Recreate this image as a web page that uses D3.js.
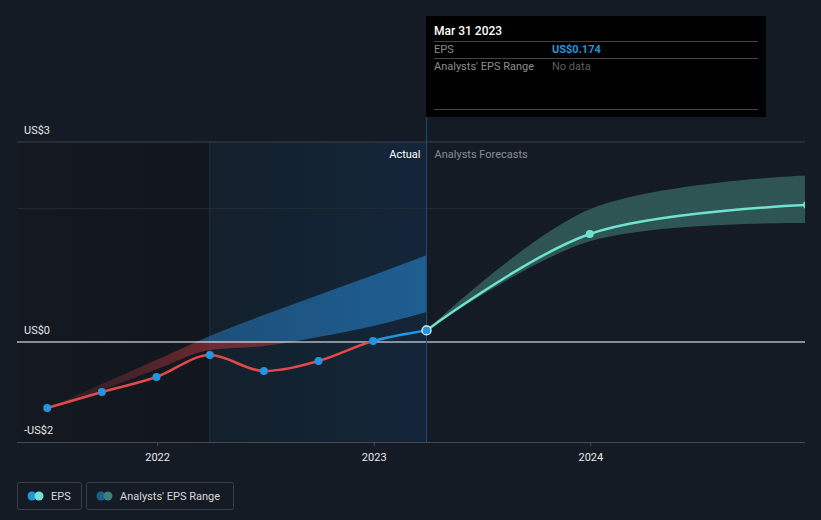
<!DOCTYPE html>
<html>
<head>
<meta charset="utf-8">
<script src="https://cdn.jsdelivr.net/npm/d3@7"></script>
<style>
  body { margin: 0; background: #151b24; }
  svg { display: block; font-family: Roboto, 'Open Sans', sans-serif; }
</style>
</head>
<body>
<svg id="chart" width="821" height="520"></svg>
<script>
const w = 821
const h = 520
const margin = { top: 142, bottom: 78, left: 17, right: 16 }

const bg = "#151b24"
const epsBlue = "#2394df"
const epsRed = "#e24a4a"
const forecastTeal = "#6fe3cf"

// actual EPS, quarterly
const actualDates = ["2021-06-30", "2021-09-30", "2021-12-31", "2022-03-31", "2022-06-30", "2022-09-30", "2022-12-31", "2023-03-31"]
const actualEps = [-0.99, -0.75, -0.525, -0.195, -0.435, -0.285, 0.015, 0.174]
const pastBandLow = [-0.99, -0.72, -0.41, -0.12, -0.06, 0.075, 0.24, 0.45]
const pastBandHigh = [-0.99, -0.63, -0.27, 0.09, 0.405, 0.705, 1.0, 1.3]

// analysts forecasts
const forecastDates = ["2023-03-31", "2023-12-31", "2024-12-31"]
const forecastEps = [0.174, 1.62, 2.055]
const forecastLow = [0.174, 1.51, 1.785]
const forecastHigh = [0.174, 1.99, 2.5]

const yTicks = [-1.5, 0, 3]
const yTickLabels = ["-US$2", "US$0", "US$3"]
const yGrid = [2]
const xTicks = ["2022-01-01", "2023-01-01", "2024-01-01"]

const parse = d3.utcParse("%Y-%m-%d")

const plotRight = w - margin.right

const x = d3.scaleUtc()
  .domain([parse("2021-05-10"), parse("2024-12-31")])
  .range([margin.left, plotRight + 2])

const y = d3.scaleLinear()
  .domain([-1.5, 3])
  .range([h - margin.bottom, margin.top])

const actual = actualDates.map((d, i) => ({ date: parse(d), value: actualEps[i], lo: pastBandLow[i], hi: pastBandHigh[i] }))
const forecast = forecastDates.map((d, i) => ({ date: parse(d), value: forecastEps[i], lo: forecastLow[i], hi: forecastHigh[i] }))

const svg = d3.select('#chart')
const defs = svg.append('defs')

const lastYearStart = parse("2022-03-31")
const now = parse("2023-03-31")

defs.append('clipPath').attr('id', 'plot')
  .append('rect').attr('x', margin.left).attr('y', 0)
  .attr('width', plotRight - margin.left).attr('height', h)

// backgrounds
const gPast = defs.append('linearGradient').attr('id', 'pastBg')
gPast.append('stop').attr('offset', '0%').attr('stop-color', '#141820')
gPast.append('stop').attr('offset', '100%').attr('stop-color', '#12171e')
const gYear = defs.append('linearGradient').attr('id', 'yearBg')
gYear.append('stop').attr('offset', '0%').attr('stop-color', '#13202c')
gYear.append('stop').attr('offset', '100%').attr('stop-color', '#132639')

svg.append('rect')
  .attr('x', margin.left).attr('y', margin.top)
  .attr('width', x(lastYearStart) - margin.left)
  .attr('height', y(-1.5) - margin.top)
  .attr('fill', 'url(#pastBg)')

svg.append('rect')
  .attr('x', x(lastYearStart)).attr('y', margin.top)
  .attr('width', x(now) - x(lastYearStart))
  .attr('height', y(-1.5) - margin.top)
  .attr('fill', 'url(#yearBg)')

svg.append('line')
  .attr('x1', x(lastYearStart)).attr('x2', x(lastYearStart))
  .attr('y1', margin.top).attr('y2', y(-1.5))
  .attr('stroke', '#1d3550')

// grid
svg.append('line')
  .attr('x1', margin.left).attr('x2', plotRight)
  .attr('y1', y(3)).attr('y2', y(3))
  .attr('stroke', '#3b4049')
svg.selectAll('line.grid')
  .data(yGrid).enter()
  .append('line')
    .attr('x1', margin.left).attr('x2', plotRight)
    .attr('y1', d => y(d)).attr('y2', d => y(d))
    .attr('stroke', '#252b34')

// past band: red below zero, blue above
defs.append('clipPath').attr('id', 'above')
  .append('rect').attr('x', 0).attr('y', 0).attr('width', w).attr('height', y(0))
defs.append('clipPath').attr('id', 'below')
  .append('rect').attr('x', 0).attr('y', y(0)).attr('width', w).attr('height', h)

const gRed = defs.append('linearGradient').attr('id', 'redBand')
  .attr('gradientUnits', 'userSpaceOnUse')
  .attr('x1', x(actual[0].date)).attr('x2', x(lastYearStart))
gRed.append('stop').attr('offset', '0%').attr('stop-color', '#c23a40').attr('stop-opacity', 0.1)
gRed.append('stop').attr('offset', '100%').attr('stop-color', '#c23a40').attr('stop-opacity', 0.5)

const gBlue = defs.append('linearGradient').attr('id', 'blueBand')
  .attr('gradientUnits', 'userSpaceOnUse')
  .attr('x1', x(lastYearStart)).attr('x2', x(now))
gBlue.append('stop').attr('offset', '0%').attr('stop-color', '#2476b8').attr('stop-opacity', 0.55)
gBlue.append('stop').attr('offset', '100%').attr('stop-color', '#2476b8').attr('stop-opacity', 0.7)

const pastArea = d3.area()
  .x(d => x(d.date))
  .y0(d => y(d.lo))
  .y1(d => y(d.hi))
  .curve(d3.curveMonotoneX)

svg.append('path')
  .attr('d', pastArea(actual))
  .attr('fill', 'url(#blueBand)')
  .attr('clip-path', 'url(#above)')
svg.append('path')
  .attr('d', pastArea(actual))
  .attr('fill', 'url(#redBand)')
  .attr('clip-path', 'url(#below)')

// forecast band
const forecastArea = d3.area()
  .x(d => x(d.date))
  .y0(d => y(d.lo))
  .y1(d => y(d.hi))
  .curve(d3.curveCatmullRom.alpha(0.5))

const plotG = svg.append('g').attr('clip-path', 'url(#plot)')

plotG.append('path')
  .attr('d', forecastArea(forecast))
  .attr('fill', '#2f5856')
  .attr('fill-opacity', 0.95)

// zero line
svg.append('line')
  .attr('x1', margin.left).attr('x2', plotRight)
  .attr('y1', y(0)).attr('y2', y(0))
  .attr('stroke', '#ffffff').attr('stroke-width', 1.2)

// bottom axis
svg.append('g')
  .attr('transform', `translate(0,${y(-1.5)})`)
  .call(d3.axisBottom(x)
    .tickValues(xTicks.map(parse))
    .tickSize(4)
    .tickFormat(d3.utcFormat('%Y')))
  .call(g => g.select('.domain')
    .attr('d', `M${margin.left},0.5H${plotRight}`)
    .attr('stroke', '#454a52'))
  .call(g => g.selectAll('.tick line').attr('stroke', '#454a52'))
  .call(g => g.selectAll('.tick text')
    .attr('y', 11)
    .attr('fill', '#e6e6e6')
    .style('font-size', '11px')
    .style('font-family', "Roboto, sans-serif"))

// y labels
svg.selectAll('text.ylab')
  .data(yTicks).enter()
  .append('text')
    .attr('x', 24)
    .attr('y', d => y(d) - 8)
    .attr('fill', '#e6e6e6')
    .style('font-size', '11px')
    .text((d, i) => yTickLabels[i])

// now marker line
svg.append('line')
  .attr('x1', x(now)).attr('x2', x(now))
  .attr('y1', 117).attr('y2', y(-1.5))
  .attr('stroke', '#1f4e75')

svg.append('text')
  .attr('x', x(now) - 6).attr('y', 158)
  .attr('text-anchor', 'end')
  .attr('fill', '#ffffff')
  .style('font-size', '11px')
  .text('Actual')
svg.append('text')
  .attr('x', x(now) + 8).attr('y', 158)
  .attr('fill', '#878c94')
  .style('font-size', '11px')
  .text('Analysts Forecasts')

// actual EPS line, red below zero, blue above
const line = d3.line()
  .x(d => x(d.date))
  .y(d => y(d.value))
  .curve(d3.curveMonotoneX)

svg.append('path')
  .attr('d', line(actual))
  .attr('fill', 'none')
  .attr('stroke', epsRed)
  .attr('stroke-width', 2.5)
  .attr('clip-path', 'url(#below)')
svg.append('path')
  .attr('d', line(actual))
  .attr('fill', 'none')
  .attr('stroke', epsBlue)
  .attr('stroke-width', 2.5)
  .attr('clip-path', 'url(#above)')

// forecast line
plotG.append('path')
  .attr('d', d3.line()
    .x(d => x(d.date))
    .y(d => y(d.value))
    .curve(d3.curveCatmullRom.alpha(0.5))(forecast))
  .attr('fill', 'none')
  .attr('stroke', forecastTeal)
  .attr('stroke-width', 2.5)

plotG.selectAll('circle.fc')
  .data(forecast.slice(1)).enter()
  .append('circle')
    .attr('cx', d => x(d.date))
    .attr('cy', d => y(d.value))
    .attr('r', 4)
    .attr('fill', forecastTeal)

svg.selectAll('circle.act')
  .data(actual).enter()
  .append('circle')
    .attr('cx', d => x(d.date))
    .attr('cy', d => y(d.value))
    .attr('r', (d, i) => i == actual.length - 1 ? 4.5 : 4)
    .attr('fill', epsBlue)
    .attr('stroke', (d, i) => i == actual.length - 1 ? '#ffffff' : 'none')
    .attr('stroke-width', 1.2)

// tooltip
const tip = svg.append('g').attr('transform', 'translate(426,16)')
tip.append('rect')
  .attr('width', 340).attr('height', 101)
  .attr('fill', '#000000')
tip.append('text')
  .attr('x', 8).attr('y', 19)
  .attr('fill', '#ffffff')
  .style('font-size', '12px')
  .style('font-weight', 500)
  .text('Mar 31 2023')
tip.selectAll('line')
  .data([25.5, 42.5, 93.5]).enter()
  .append('line')
    .attr('x1', 8).attr('x2', 332)
    .attr('y1', d => d).attr('y2', d => d)
    .attr('stroke', '#444444')
tip.append('text')
  .attr('x', 8).attr('y', 37)
  .attr('fill', '#8d8d8d')
  .style('font-size', '11px')
  .text('EPS')
tip.append('text')
  .attr('x', 126).attr('y', 37)
  .attr('fill', epsBlue)
  .style('font-size', '11px')
  .style('font-weight', 700)
  .text('US$0.174')
tip.append('text')
  .attr('x', 8).attr('y', 54)
  .attr('fill', '#8d8d8d')
  .style('font-size', '11px')
  .text("Analysts' EPS Range")
tip.append('text')
  .attr('x', 126).attr('y', 54)
  .attr('fill', '#5f5f5f')
  .style('font-size', '11px')
  .text('No data')

// legend
const legendItems = [
  { label: 'EPS', x: 17, width: 64, colors: [epsBlue, forecastTeal] },
  { label: "Analysts' EPS Range", x: 86, width: 147, colors: ['#1f5f8f', '#3d807b'] }
]
const leg = svg.selectAll('g.legend')
  .data(legendItems).enter()
  .append('g')
    .attr('transform', d => `translate(${d.x},482)`)
leg.append('rect')
  .attr('x', 0.5).attr('y', 0.5)
  .attr('width', d => d.width).attr('height', 27)
  .attr('rx', 2)
  .attr('fill', 'none')
  .attr('stroke', '#3a3f47')
leg.append('circle')
  .attr('cx', 15).attr('cy', 14).attr('r', 4.5)
  .attr('fill', d => d.colors[0])
leg.append('circle')
  .attr('cx', 22).attr('cy', 14).attr('r', 4.5)
  .attr('fill', d => d.colors[1])
leg.append('text')
  .attr('x', 34).attr('y', 18)
  .attr('fill', '#d8d8d8')
  .style('font-size', '11px')
  .text(d => d.label)
</script>
</body>
</html>
